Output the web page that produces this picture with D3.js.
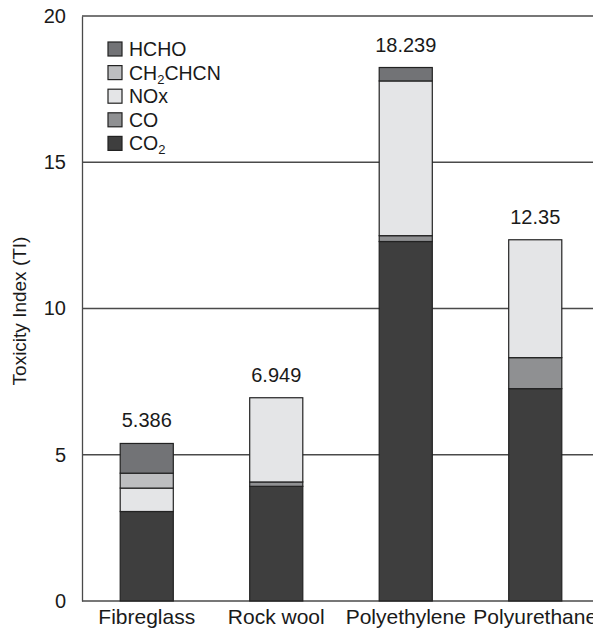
<!DOCTYPE html>
<html>
<head>
<meta charset="utf-8">
<script src="https://cdn.jsdelivr.net/npm/d3@7"></script>
<style>
  html, body { margin: 0; padding: 0; background: #fff; }
  svg { display: block; font-family: "Liberation Sans", Arial, Helvetica, sans-serif; }
</style>
</head>
<body>
<svg id="chart" width="593" height="636"></svg>
<script>
// Toxicity index per insulation material, split by combustion gas
const materials = ["Fibreglass", "Rock wool", "Polyethylene", "Polyurethane"];
const co2     = [3.06, 3.92, 12.29, 7.26];
const co      = [0.00, 0.15, 0.20, 1.06];
const nox     = [0.80, 2.879, 5.29, 4.03];
const ch2chcn = [0.51, 0.00, 0.00, 0.00];
const hcho    = [1.016, 0.00, 0.459, 0.00];
const yTicks  = [0, 5, 10, 15, 20];

// stacking order, bottom to top
const gases = [
  { key: "CO2",     values: co2,     fill: "#3e3e3e" },
  { key: "CO",      values: co,      fill: "#8f9092" },
  { key: "NOx",     values: nox,     fill: "#e4e5e7" },
  { key: "CH2CHCN", values: ch2chcn, fill: "#bdbec0" },
  { key: "HCHO",    values: hcho,    fill: "#727376" }
];

const rows = materials.map((m, i) => {
  const r = { material: m };
  gases.forEach(g => { r[g.key] = g.values[i]; });
  return r;
});

const svg = d3.select("#chart");
const plotLeft = 82, plotRight = 600, plotTop = 16, plotBottom = 601;

const x = d3.scaleBand().domain(materials).range([plotLeft, plotRight])
  .paddingInner(0.59).paddingOuter(0.295);
const y = d3.scaleLinear().domain([0, 20]).range([plotBottom, plotTop]);

// horizontal grid lines (also the top border)
svg.append("g").selectAll("line").data(yTicks.filter(t => t > 0)).join("line")
  .attr("x1", plotLeft).attr("x2", plotRight)
  .attr("y1", d => y(d)).attr("y2", d => y(d))
  .attr("stroke", "#4a4a4a").attr("stroke-width", 1.3);

// y axis
const yAxis = svg.append("g").attr("transform", `translate(${plotLeft},0)`)
  .call(d3.axisLeft(y).tickValues(yTicks).tickSize(0).tickPadding(16));
yAxis.select(".domain").attr("stroke", "#4a4a4a").attr("stroke-width", 1.3);
yAxis.selectAll("text").attr("font-size", 20).attr("fill", "#1a1a1a")
  .attr("font-family", "Liberation Sans, Arial, sans-serif");

// x axis baseline
svg.append("line").attr("x1", plotLeft).attr("x2", plotRight)
  .attr("y1", plotBottom).attr("y2", plotBottom)
  .attr("stroke", "#4a4a4a").attr("stroke-width", 1.3);

// category labels
svg.append("g").selectAll("text").data(materials).join("text")
  .attr("x", d => x(d) + x.bandwidth() / 2).attr("y", 624)
  .attr("text-anchor", "middle").attr("font-size", 21).attr("fill", "#1a1a1a")
  .text(d => d);

// y axis title
svg.append("text")
  .attr("transform", "translate(26,311) rotate(-90)")
  .attr("text-anchor", "middle").attr("font-size", 19).attr("fill", "#1a1a1a")
  .text("Toxicity Index (TI)");

// stacked bars
const stack = d3.stack().keys(gases.map(g => g.key));
const series = stack(rows);
svg.append("g").selectAll("g").data(series).join("g")
  .attr("fill", (d, i) => gases[i].fill)
  .selectAll("rect").data(d => d.filter(s => s[1] - s[0] > 0)).join("rect")
  .attr("x", d => x(d.data.material))
  .attr("width", x.bandwidth())
  .attr("y", d => y(d[1]))
  .attr("height", d => y(d[0]) - y(d[1]))
  .attr("stroke", "#222").attr("stroke-width", 1.2);

// totals above each bar
svg.append("g").selectAll("text").data(rows).join("text")
  .attr("x", d => x(d.material) + x.bandwidth() / 2)
  .attr("y", d => y(d3.sum(gases, g => d[g.key])) - 16)
  .attr("text-anchor", "middle").attr("font-size", 20).attr("fill", "#1a1a1a")
  .text(d => String(+d3.sum(gases, g => d[g.key]).toFixed(3)));

// legend, top entry first
const legendItems = gases.slice().reverse();
const legend = svg.append("g").attr("transform", "translate(108,42)");
const item = legend.selectAll("g").data(legendItems).join("g")
  .attr("transform", (d, i) => `translate(0,${i * 23.6})`);
item.append("rect").attr("width", 14).attr("height", 14)
  .attr("fill", d => d.fill).attr("stroke", "#222").attr("stroke-width", 1.2);
const label = item.append("text").attr("x", 21).attr("y", 14)
  .attr("font-size", 19.5).attr("fill", "#1a1a1a");
const labelParts = {
  HCHO: [["HCHO", false]],
  CH2CHCN: [["CH", false], ["2", true], ["CHCN", false]],
  NOx: [["NOx", false]],
  CO: [["CO", false]],
  CO2: [["CO", false], ["2", true]]
};
label.each(function (d) {
  const t = d3.select(this);
  labelParts[d.key].forEach(([s, sub]) => {
    const ts = t.append("tspan").text(s);
    if (sub) ts.attr("font-size", 13).attr("dy", 4);
    else if (t.selectAll("tspan").size() > 1) ts.attr("dy", -4);
  });
});
</script>
</body>
</html>
